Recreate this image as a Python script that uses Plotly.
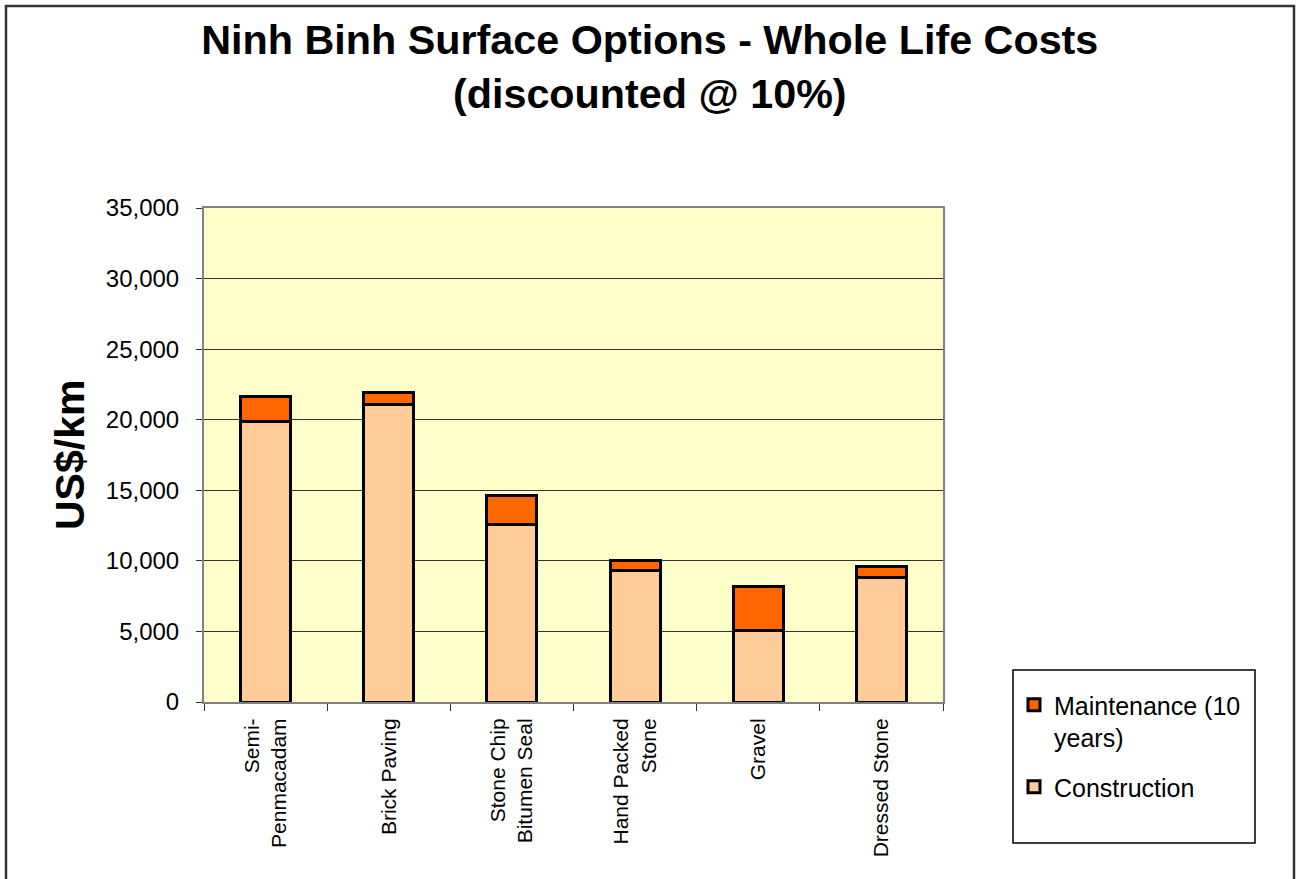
import plotly.graph_objects as go

categories = ["Semi-<br>Penmacadam", "Brick Paving", "Stone Chip<br>Bitumen Seal",
              "Hand Packed<br>Stone", "Gravel", "Dressed Stone"]
construction = [19900, 21100, 12600, 9300, 5100, 8850]
maintenance = [1780, 800, 2000, 750, 3070, 750]
y_ticks = [0, 5000, 10000, 15000, 20000, 25000, 30000, 35000]
y_ticklabels = ["0", "5,000", "10,000", "15,000", "20,000", "25,000", "30,000", "35,000"]

W, H = 1297, 879
L, R, T, B = 204, 943, 208, 702
pw, ph = R - L, B - T

def px_x(x):
    return (x - L) / pw

def px_y(y):
    return (B - y) / ph

fig = go.Figure()
fig.add_trace(go.Bar(x=categories, y=construction, name="Construction", legendgroup="c",
                     legendrank=2,
                     marker=dict(color="#FFCC99", line=dict(color="black", width=3))))
fig.add_trace(go.Bar(x=categories, y=maintenance, name="Maintenance (10<br>years)", legendgroup="m",
                     legendrank=1,
                     marker=dict(color="#FF6600", line=dict(color="black", width=3))))

fig.update_layout(
    width=W, height=H,
    margin=dict(l=L, r=W - R, t=T, b=H - B, pad=0),
    barmode="stack", bargap=0.594,
    plot_bgcolor="#FFFFCC", paper_bgcolor="white",
    font=dict(family="Liberation Sans, Arial, sans-serif", color="black"),
    title=dict(text="<b>Ninh Binh Surface Options - Whole Life Costs<br>(discounted @ 10%)</b>",
               x=0.501, xanchor="center", y=1 - 54 / H, yanchor="middle",
               font=dict(size=41.3, color="black")),
    showlegend=True,
    legend=dict(x=px_x(1014), y=px_y(682), xanchor="left", yanchor="top",
                traceorder="grouped", valign="top", bgcolor="rgba(0,0,0,0)", borderwidth=0,
                font=dict(size=25), tracegroupgap=14, itemwidth=30),
    xaxis=dict(showline=True, linecolor="#808080", linewidth=2, mirror=True,
               ticks="outside", tickson="boundaries", ticklen=7, tickcolor="#333",
               tickangle=-90, tickfont=dict(size=21), ticklabelstandoff=6, showgrid=False),
    yaxis=dict(range=[0, 35000], tickvals=y_ticks, ticktext=y_ticklabels,
               showline=True, linecolor="#808080", linewidth=2, mirror=True,
               ticks="outside", ticklen=6, tickcolor="#333",
               tickfont=dict(size=24), ticklabelstandoff=12,
               showgrid=True, gridcolor="#333", gridwidth=1, zeroline=False),
    annotations=[dict(text="<b>US$/km</b>", x=px_x(70), y=0.5, xref="paper", yref="paper",
                      textangle=-90, showarrow=False, font=dict(size=41, color="black"),
                      xanchor="center", yanchor="middle")],
    shapes=[
        dict(type="rect", xref="paper", yref="paper",
             x0=px_x(1013), x1=px_x(1255), y0=px_y(843), y1=px_y(670),
             line=dict(color="black", width=1.5), fillcolor="rgba(0,0,0,0)", layer="above"),
        dict(type="rect", xref="paper", yref="paper",
             x0=px_x(6), x1=px_x(1294), y0=px_y(885), y1=px_y(6),
             line=dict(color="#333", width=2.5), fillcolor="rgba(0,0,0,0)", layer="above"),
    ],
)

fig.write_html("out.html")
